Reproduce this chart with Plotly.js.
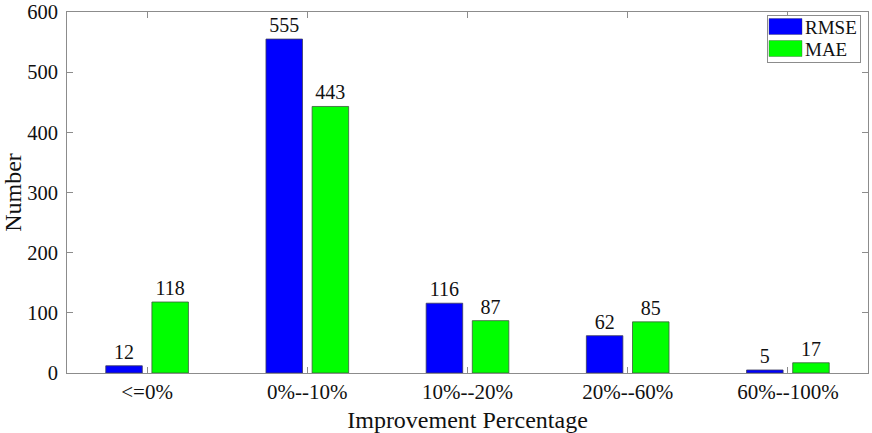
<!DOCTYPE html>
<html>
<head>
<meta charset="utf-8">
<script src="https://cdn.plot.ly/plotly-3.0.1.min.js"></script>
<style>html,body{margin:0;padding:0;background:#fff;}</style>
</head>
<body>
<div id="chart" style="width:872px;height:433px;"></div>
<script>
const categories = ['<=0%', '0%--10%', '10%--20%', '20%--60%', '60%--100%'];
const rmseValues = [12, 555, 116, 62, 5];
const maeValues = [118, 443, 87, 85, 17];
const yTickVals = [0, 100, 200, 300, 400, 500, 600];

const FONT = "Liberation Serif, Tinos, DejaVu Serif, serif";
const AXIS_COLOR = '#8c8c8c';

const traces = [
  {
    type: 'bar', name: 'RMSE', x: categories, y: rmseValues,
    width: 0.228, offset: -0.258,
    marker: {color: '#0000ff', line: {color: '#3c3c5a', width: 0.8}},
    text: rmseValues.map(String), textposition: 'outside', cliponaxis: false,
    textfont: {family: FONT, size: 20, color: '#111'}
  },
  {
    type: 'bar', name: 'MAE', x: categories, y: maeValues,
    width: 0.228, offset: 0.03,
    marker: {color: '#00ff00', line: {color: '#3c5a3c', width: 0.8}},
    text: maeValues.map(String), textposition: 'outside', cliponaxis: false,
    textfont: {family: FONT, size: 20, color: '#111'}
  }
];

const layout = {
  width: 872, height: 433,
  margin: {l: 67, r: 4, t: 12, b: 60},
  paper_bgcolor: '#fff', plot_bgcolor: '#fff',
  barmode: 'overlay',
  font: {family: FONT, size: 20, color: '#111'},
  showlegend: true,
  legend: {
    x: 0.991, y: 0.984, xanchor: 'right', yanchor: 'top',
    bgcolor: '#fff', bordercolor: AXIS_COLOR, borderwidth: 1,
    font: {family: FONT, size: 19, color: '#111'},
    tracegroupgap: 0, itemwidth: 30
  },
  xaxis: {
    type: 'category', range: [-0.5, 4.5],
    showline: true, linecolor: AXIS_COLOR, linewidth: 1, mirror: 'ticks',
    ticks: 'inside', ticklen: 6, tickcolor: AXIS_COLOR,
    showgrid: false, zeroline: false,
    tickfont: {family: FONT, size: 21, color: '#111'},
    title: {text: 'Improvement Percentage', font: {family: FONT, size: 24, color: '#111'}, standoff: 7}
  },
  yaxis: {
    range: [0, 600], tickvals: yTickVals, ticktext: yTickVals.map(String),
    showline: true, linecolor: AXIS_COLOR, linewidth: 1, mirror: 'ticks',
    ticks: 'inside', ticklen: 6, tickcolor: AXIS_COLOR,
    showgrid: false, zeroline: false, ticklabeloverflow: 'allow',
    tickfont: {family: FONT, size: 20.5, color: '#111'},
    ticklabelstandoff: 4,
    title: {text: 'Number', font: {family: FONT, size: 24, color: '#111'}, standoff: 8}
  }
};

Plotly.newPlot('chart', traces, layout, {displayModeBar: false, staticPlot: true}).then(function () {
  // Restyle the legend box to resemble the reference's compact MATLAB legend
  const leg = document.querySelector('g.legend');
  if (!leg) return;
  leg.setAttribute('transform', 'translate(767,15)');
  const bg = leg.querySelector('.bg');
  if (bg) { bg.setAttribute('width', '93'); bg.setAttribute('height', '47'); }
  leg.querySelectorAll('.legendpoints path').forEach(function (p) {
    p.setAttribute('d', 'M17,8H-16V-8H17Z');
    p.style.strokeWidth = '0.4px';
  });
  leg.querySelectorAll('.traces').forEach(function (g, i) {
    g.setAttribute('transform', 'translate(-2,' + (11.5 + 22 * i) + ')');
  });
});
</script>
</body>
</html>
